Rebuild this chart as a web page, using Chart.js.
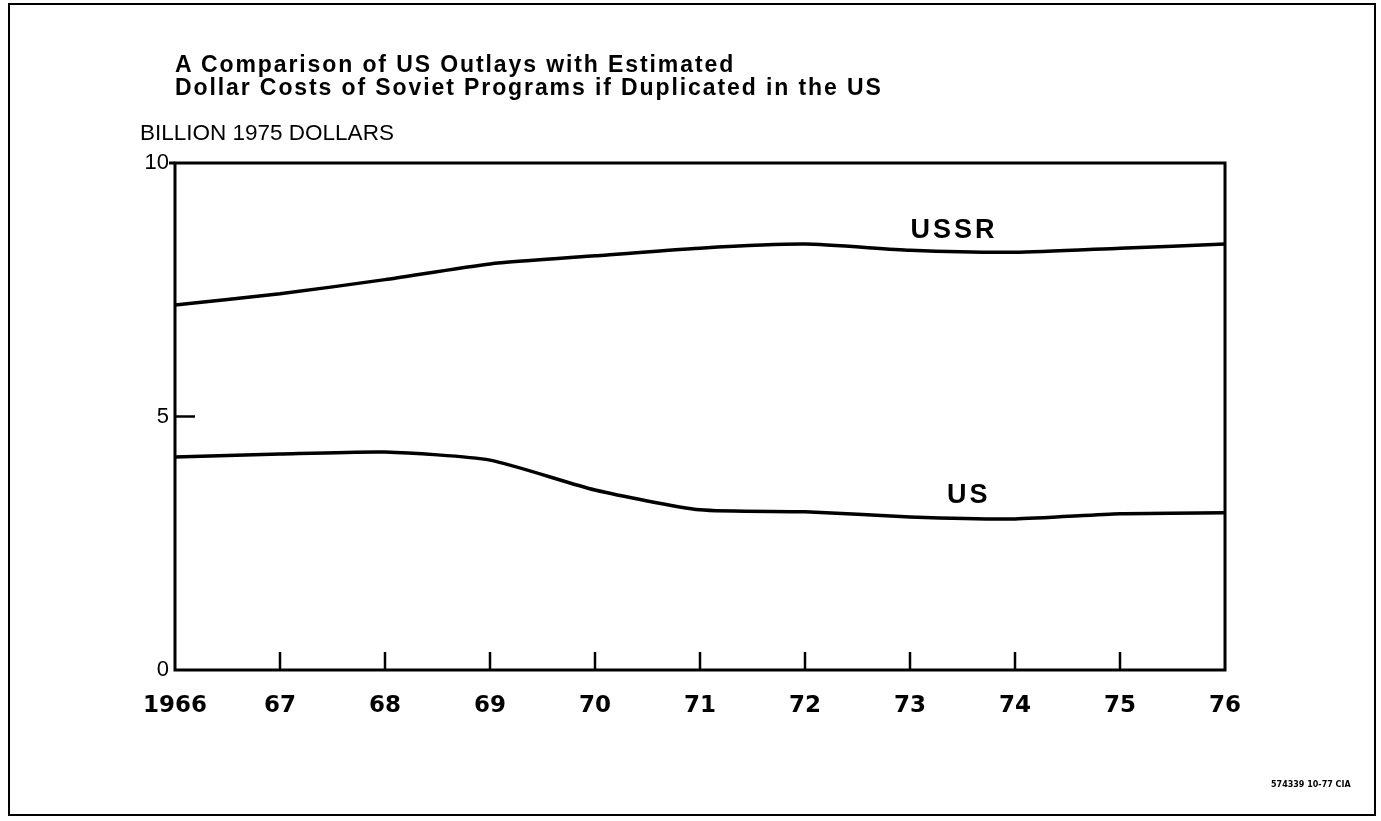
<!DOCTYPE html>
<html>
<head>
<meta charset="utf-8">
<script src="https://cdn.jsdelivr.net/npm/chart.js@4.4.1/dist/chart.umd.min.js"></script>
<style>
  body { margin: 0; background: #fff; }
  #wrap { position: relative; width: 1381px; height: 821px; overflow: hidden; }
  #frame { position: absolute; left: 8px; top: 3px; width: 1368px; height: 813px; border: 2px solid #000; box-sizing: border-box; }
  canvas { position: absolute; left: 0; top: 0; }
  .txt { position: absolute; color: #000; white-space: nowrap; }
  #title { left: 175px; top: 53px; font: bold 23px "Liberation Sans", Arial, sans-serif; line-height: 23px; letter-spacing: 1.9px; }
  #ylabel { left: 140px; top: 120px; font: 22.5px "Liberation Sans", sans-serif; }
  #footer { left: 1271px; top: 780px; font: bold 8px "DejaVu Sans", sans-serif; }
</style>
</head>
<body>
<div id="wrap">
  <div id="frame"></div>
  <canvas id="chart" width="1381" height="821"></canvas>
  <div class="txt" id="title">A Comparison of US Outlays with Estimated<br>Dollar Costs of Soviet Programs if Duplicated in the US</div>
  <div class="txt" id="ylabel">BILLION 1975 DOLLARS</div>
  <div class="txt" id="footer">574339 10-77 CIA</div>
</div>
<script>
// data
var years = ["1966", "67", "68", "69", "70", "71", "72", "73", "74", "75", "76"];
var ussr = [7.2, 7.42, 7.7, 8.01, 8.17, 8.32, 8.4, 8.28, 8.24, 8.32, 8.4];
var us = [4.2, 4.26, 4.3, 4.14, 3.55, 3.16, 3.12, 3.02, 2.98, 3.08, 3.1];
var yTicks = [0, 5, 10];

// frame, inner tick marks and line labels
var decor = {
  id: "decor",
  afterDraw: function(chart) {
    var ctx = chart.ctx;
    var a = chart.chartArea;
    var x = chart.scales.x;
    var y = chart.scales.y;
    ctx.save();
    ctx.strokeStyle = "#000";
    ctx.lineWidth = 3;
    ctx.strokeRect(a.left, a.top, a.right - a.left, a.bottom - a.top);
    // top line runs a bit past the left axis at 10
    ctx.beginPath();
    ctx.moveTo(a.left - 6, y.getPixelForValue(10));
    ctx.lineTo(a.left, y.getPixelForValue(10));
    ctx.stroke();
    ctx.lineWidth = 2.5;
    for (var i = 1; i < years.length - 1; i++) {
      var px = x.getPixelForValue(i);
      ctx.beginPath();
      ctx.moveTo(px, a.bottom);
      ctx.lineTo(px, a.bottom - 18);
      ctx.stroke();
    }
    // tick at 5
    var p5 = y.getPixelForValue(5);
    ctx.beginPath();
    ctx.moveTo(a.left, p5);
    ctx.lineTo(a.left + 20, p5);
    ctx.stroke();
    ctx.fillStyle = "#000";
    ctx.font = "bold 27px 'Liberation Sans', Arial, sans-serif";
    ctx.letterSpacing = "3px";
    ctx.textAlign = "center";
    ctx.textBaseline = "bottom";
    ctx.fillText("USSR", x.getPixelForValue(7.42), y.getPixelForValue(ussr[7]) - 6);
    ctx.fillText("US", x.getPixelForValue(7.56), y.getPixelForValue(us[7]) - 8);
    ctx.restore();
  }
};

new Chart(document.getElementById("chart").getContext("2d"), {
  type: "line",
  data: {
    labels: years,
    datasets: [
      { label: "USSR", data: ussr, borderColor: "#000", borderWidth: 3.5, pointRadius: 0, tension: 0.2, fill: false },
      { label: "US", data: us, borderColor: "#000", borderWidth: 3.5, pointRadius: 0, tension: 0.2, fill: false }
    ]
  },
  options: {
    responsive: false,
    animation: false,
    layout: { padding: { left: 130, right: 156, top: 163, bottom: 96 } },
    plugins: { legend: { display: false }, tooltip: { enabled: false } },
    scales: {
      x: {
        offset: false,
        grid: { display: false, drawTicks: false },
        border: { display: false },
        afterFit: function(s) { s.height = 55; },
        ticks: {
          color: "#000",
          padding: 22,
          maxRotation: 0,
          autoSkip: false,
          font: { family: "'DejaVu Sans', sans-serif", weight: "bold", size: 23 }
        }
      },
      y: {
        min: 0,
        max: 10,
        afterBuildTicks: function(s) { s.ticks = yTicks.map(function(v) { return { value: v }; }); },
        grid: { display: false, drawTicks: false },
        border: { display: false },
        afterFit: function(s) { s.width = 45; },
        ticks: {
          color: "#000",
          padding: 6,
          font: { family: "'Liberation Sans', Arial, sans-serif", size: 22 }
        }
      }
    }
  },
  plugins: [decor]
});
</script>
</body>
</html>
